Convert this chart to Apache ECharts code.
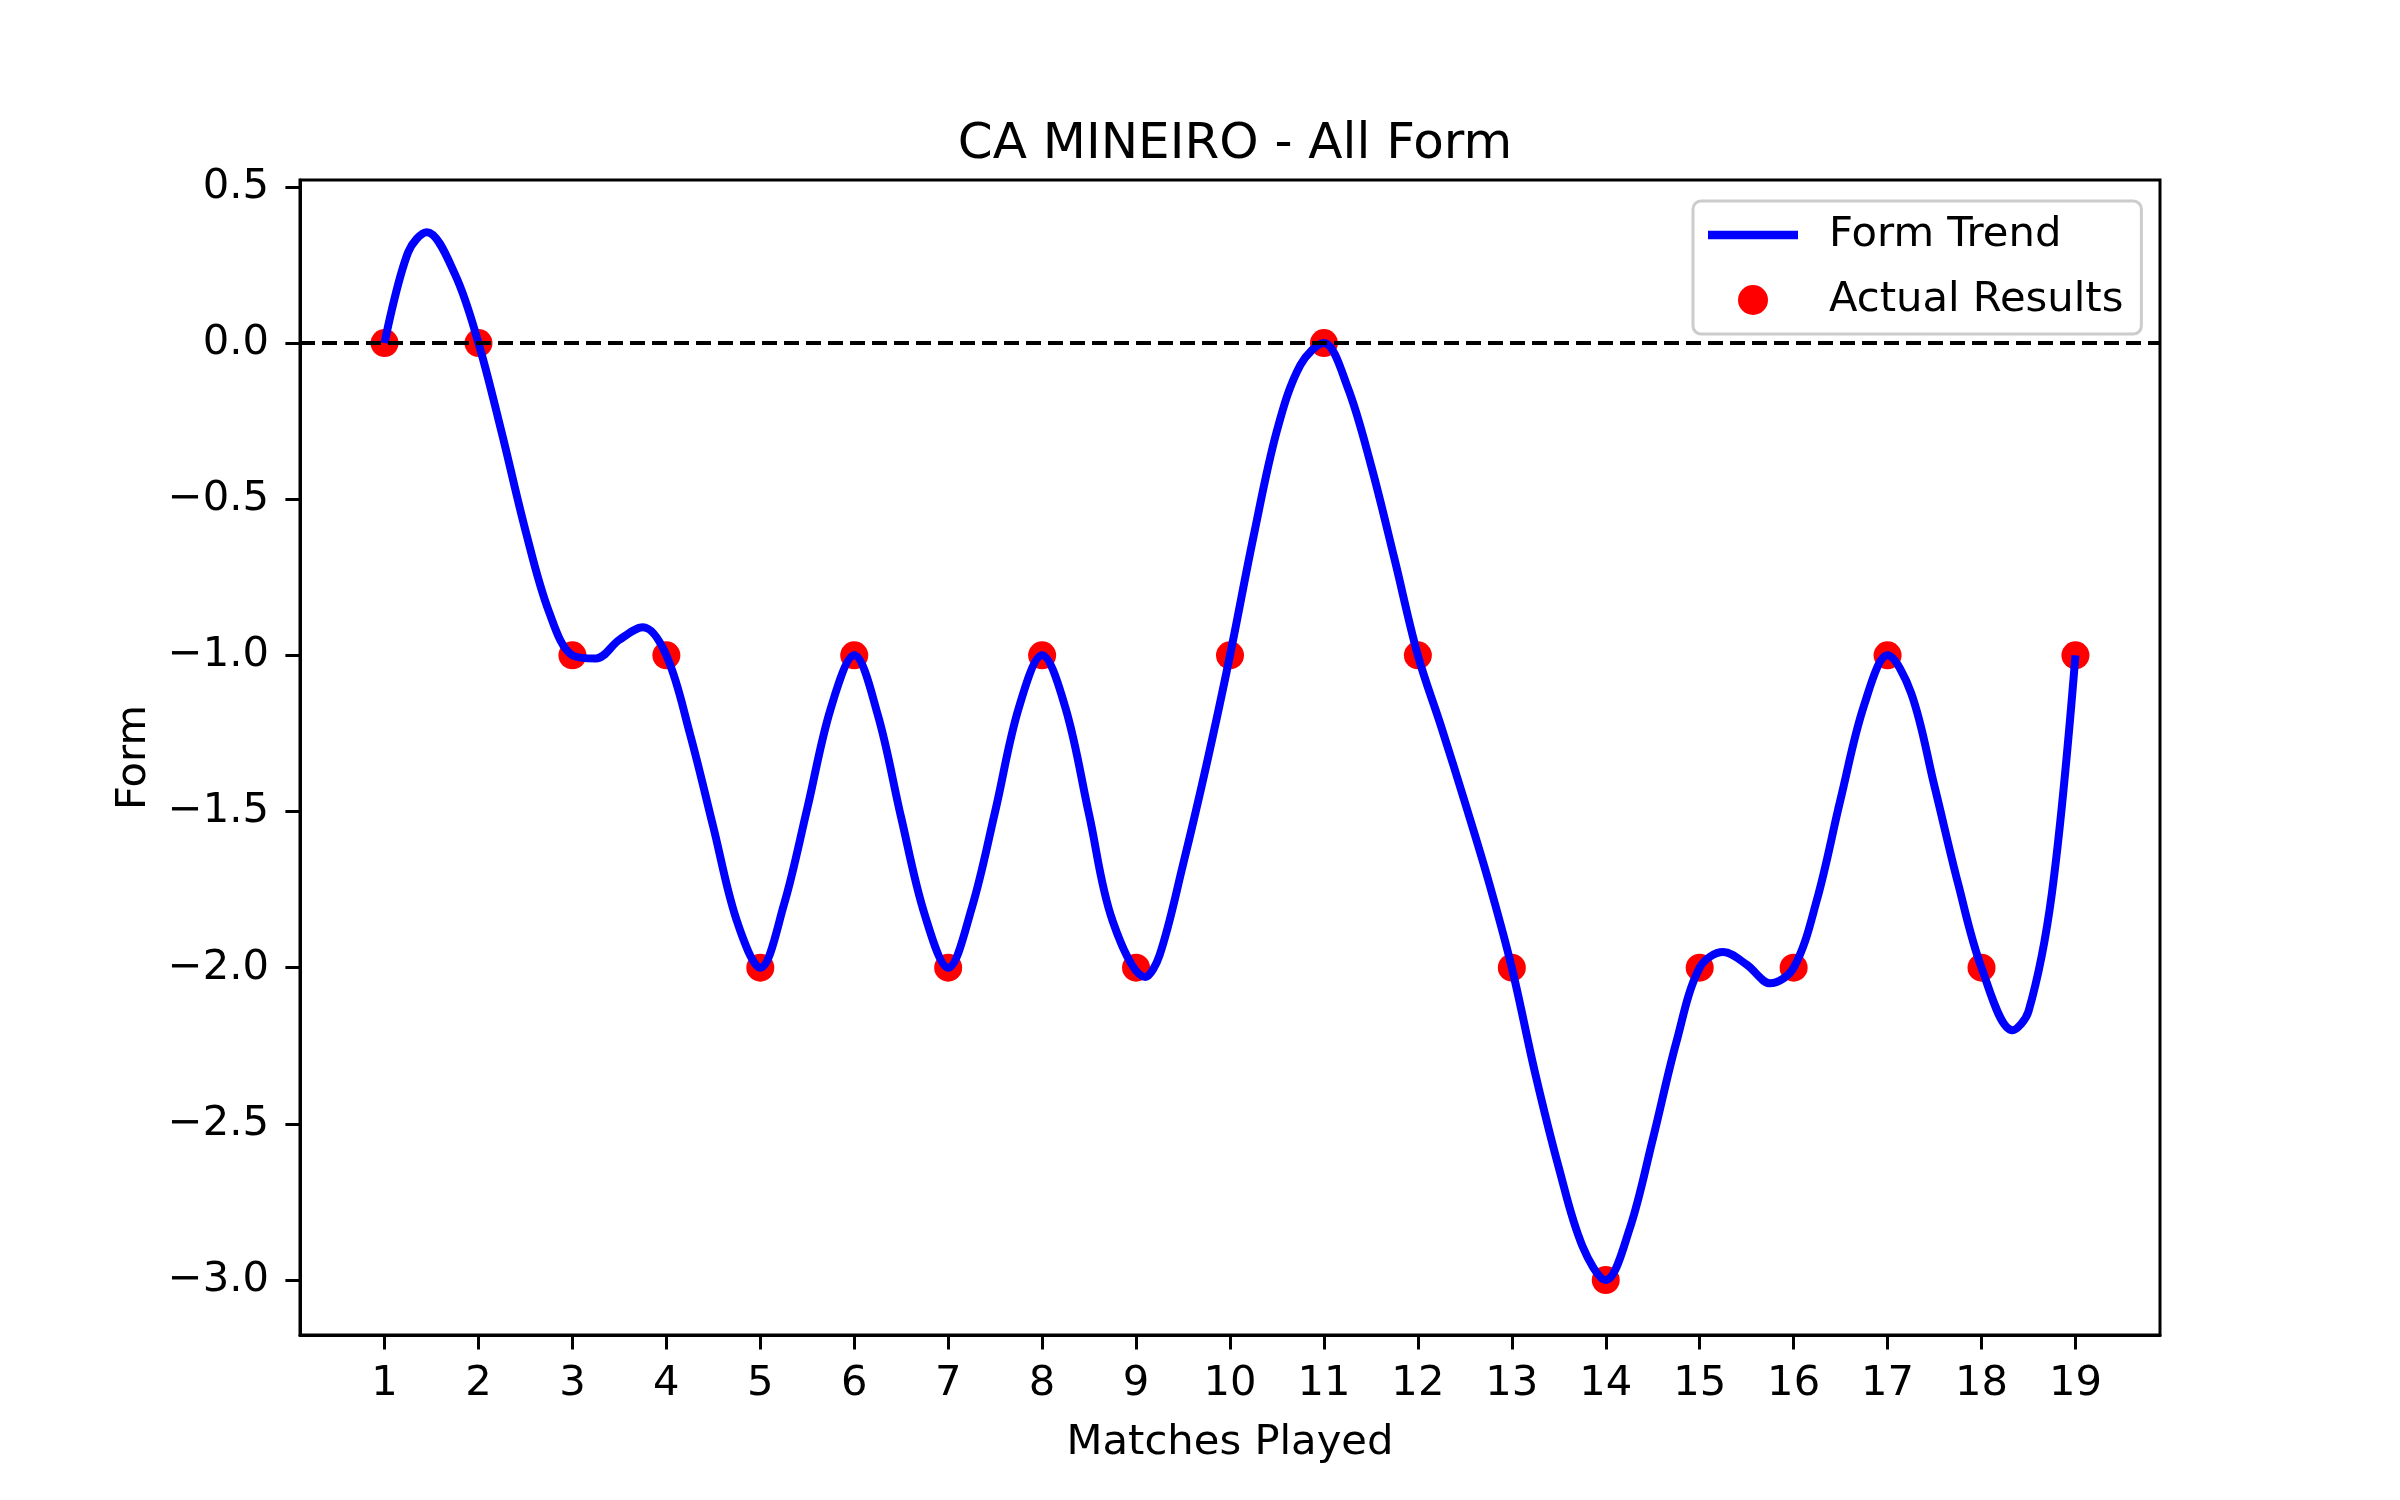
<!DOCTYPE html>
<html>
<head>
<meta charset="utf-8">
<title>CA MINEIRO - All Form</title>
<script src="https://cdn.jsdelivr.net/npm/echarts@6/dist/echarts.min.js"></script>
<style>
  html, body { margin: 0; padding: 0; background: #fff; }
  #chart { width: 2400px; height: 1500px; }
</style>
</head>
<body>
<div id="chart"></div>
<script>
// actual results per match
var matchNo = [1, 2, 3, 4, 5, 6, 7, 8, 9, 10, 11, 12, 13, 14, 15, 16, 17, 18, 19];
var results = [0, 0, -1, -1, -2, -1, -2, -1, -2, -1, 0, -1, -2, -3, -2, -2, -1, -2, -1];

// smoothed form trend
var trendX = [1, 1.25, 1.45, 1.75, 2, 2.25, 2.5, 2.75, 3, 3.25, 3.5, 3.75, 4,
  4.25, 4.5, 4.75, 5, 5.25, 5.5, 5.75, 6, 6.25, 6.5, 6.75, 7, 7.25, 7.5, 7.75, 8,
  8.25, 8.5, 8.75, 9.1, 9.25, 9.5, 9.75, 10, 10.25, 10.5, 10.75, 11, 11.25, 11.5, 11.75, 12,
  12.25, 12.5, 12.75, 13, 13.25, 13.5, 13.75, 14, 14.25, 14.5, 14.75, 15, 15.25, 15.5, 15.75, 16,
  16.25, 16.5, 16.75, 17, 17.25, 17.5, 17.75, 18, 18.33, 18.5, 18.75, 19];
var trendY = [0, 0.29, 0.355, 0.22, 0, -0.29, -0.60, -0.86, -1.0, -1.01, -0.95, -0.91, -1.0,
  -1.25, -1.55, -1.85, -2.0, -1.80, -1.49, -1.17, -1.0, -1.19, -1.52, -1.83, -2.0, -1.81, -1.50, -1.17, -1.0,
  -1.17, -1.51, -1.85, -2.03, -1.96, -1.67, -1.35, -1.0, -0.62, -0.28, -0.07, 0.0, -0.14, -0.39, -0.69, -1.0,
  -1.23, -1.47, -1.72, -2.0, -2.34, -2.64, -2.89, -3.0, -2.84, -2.55, -2.24, -2.0, -1.95, -1.99, -2.05, -2.0,
  -1.78, -1.46, -1.16, -1.0, -1.12, -1.42, -1.73, -2.0, -2.20, -2.14, -1.76, -1.0];

var yTicks = [-3.0, -2.5, -2.0, -1.5, -1.0, -0.5, 0.0, 0.5];

var FONT = 'DejaVu Sans';
var FS = 41.7;

function zip(xs, ys) {
  return xs.map(function (x, i) { return [x, ys[i]]; });
}
function fmtY(v) {
  return (v < 0 ? '\u2212' : '') + Math.abs(v).toFixed(1);
}

var chart = echarts.init(document.getElementById('chart'), null, { renderer: 'canvas' });

chart.setOption({
  animation: false,
  backgroundColor: '#ffffff',
  textStyle: { fontFamily: FONT, color: '#000' },
  title: {
    text: 'CA MINEIRO - All Form',
    left: 1230,
    top: 115,
    textAlign: 'center',
    textStyle: { fontFamily: FONT, fontSize: 50, fontWeight: 'normal', color: '#000', lineHeight: 50 }
  },
  grid: {
    left: 300, right: 240, top: 180, bottom: 165,
    show: true, borderColor: '#000', borderWidth: 3, backgroundColor: 'transparent'
  },
  legend: {
    left: 1693,
    top: 201,
    orient: 'vertical',
    padding: [13, 18, 13, 15],
    itemWidth: 90,
    itemHeight: 30,
    itemGap: 23,
    symbolKeepAspect: true,
    backgroundColor: 'rgba(255,255,255,0.8)',
    borderColor: '#cccccc',
    borderWidth: 3,
    borderRadius: 8,
    data: [
      { name: 'Form Trend', icon: 'path://M0 0H90V8.3H0Z' },
      { name: 'Actual Results', icon: 'circle' }
    ],
    textStyle: { fontFamily: FONT, fontSize: FS, color: '#000', lineHeight: 42, padding: [0, 0, 0, 26] }
  },
  xAxis: {
    type: 'value',
    min: 0.1,
    max: 19.9,
    name: 'Matches Played',
    nameLocation: 'middle',
    nameGap: 87,
    nameTextStyle: { fontFamily: FONT, fontSize: FS, color: '#000', lineHeight: 42 },
    splitLine: { show: false },
    axisLine: { show: true, onZero: false, lineStyle: { color: '#000', width: 3 } },
    axisTick: { show: true, length: 14.6, lineStyle: { color: '#000', width: 3 }, customValues: matchNo },
    axisLabel: {
      customValues: matchNo,
      margin: 28,
      fontFamily: FONT, fontSize: FS, color: '#000', lineHeight: 42
    }
  },
  yAxis: {
    type: 'value',
    min: -3.176,
    max: 0.522,
    name: 'Form',
    nameLocation: 'middle',
    nameGap: 145,
    nameRotate: 90,
    nameTextStyle: { fontFamily: FONT, fontSize: FS, color: '#000', lineHeight: 42 },
    splitLine: { show: false },
    axisLine: { show: true, onZero: false, lineStyle: { color: '#000', width: 3 } },
    axisTick: { show: true, length: 14.6, lineStyle: { color: '#000', width: 3 }, customValues: yTicks },
    axisLabel: {
      customValues: yTicks,
      margin: 31,
      formatter: fmtY,
      fontFamily: FONT, fontSize: FS, color: '#000', lineHeight: 42
    }
  },
  series: [
    {
      name: 'Actual Results',
      type: 'scatter',
      data: zip(matchNo, results),
      symbol: 'circle',
      symbolSize: 28,
      itemStyle: { color: '#ff0000', opacity: 1 },
      z: 1,
      markLine: {
        silent: true,
        symbol: 'none',
        label: { show: false },
        lineStyle: { color: '#000', width: 4, type: [15, 7] },
        data: [{ yAxis: 0 }],
        z: 3
      }
    },
    {
      name: 'Form Trend',
      type: 'line',
      data: zip(trendX, trendY),
      smooth: 0.35,
      symbol: 'none',
      lineStyle: { color: '#0000ff', width: 8 },
      itemStyle: { color: '#0000ff' },
      z: 2
    }
  ]
});
</script>
</body>
</html>
